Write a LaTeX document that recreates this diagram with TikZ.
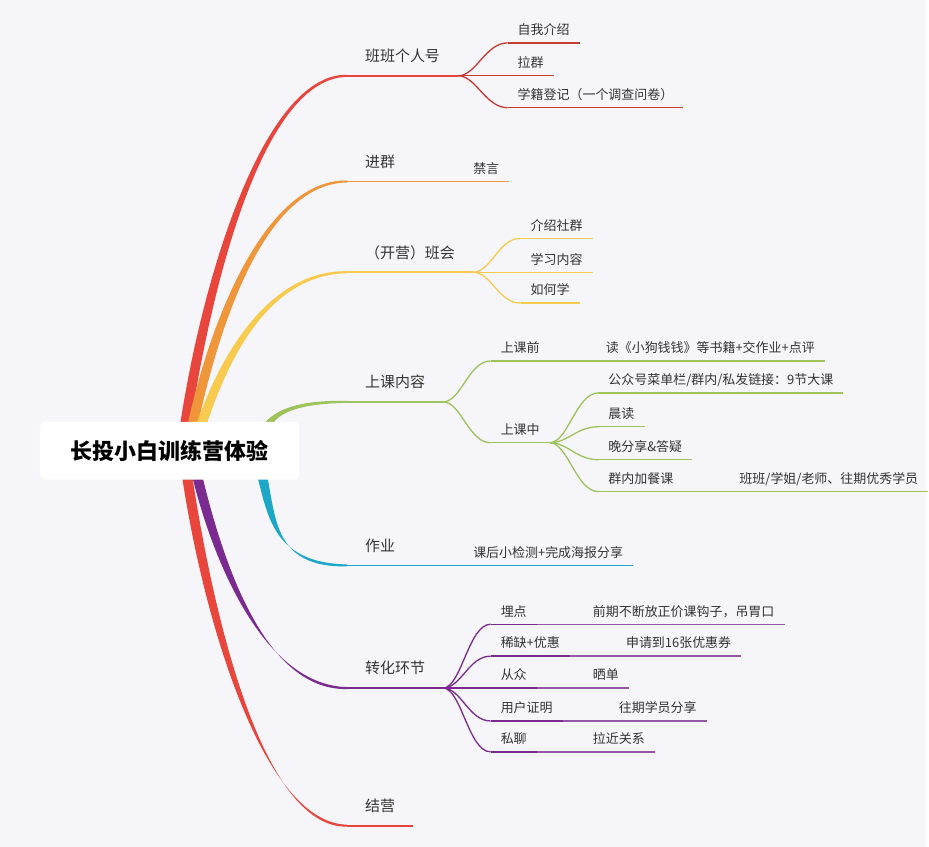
\documentclass[tikz,border=0pt]{standalone}
\usepackage{fontspec}
\setmainfont{Noto Sans CJK SC}
\usepackage{tikz}
\usetikzlibrary{calc,positioning}
\definecolor{bgpaper}{HTML}{F6F5FA}
\definecolor{inkgray}{HTML}{333333}
\definecolor{mapred}{HTML}{E8453C}
\definecolor{maporange}{HTML}{F0963A}
\definecolor{mapyellow}{HTML}{F8CB4E}
\definecolor{mapgreen}{HTML}{9EC35A}
\definecolor{mapteal}{HTML}{1BA7C5}
\definecolor{mappurple}{HTML}{7B2B90}
\tikzset{
  rootbox/.style={fill=white,rounded corners=6pt,minimum width=260pt,minimum height=58pt,font=\fontsize{22}{26}\selectfont\bfseries,text=black},
  topic/.style={anchor=south west,inner xsep=18pt,inner ysep=11pt,text height=11pt,text depth=3pt,font=\fontsize{15}{18}\selectfont,text=inkgray},
  subtopic/.style={anchor=south west,inner xsep=10pt,inner ysep=5.5pt,text height=10pt,text depth=2.5pt,font=\fontsize{13}{16}\selectfont,text=inkgray},
  uline/.style={line width=1.8pt},
  twig/.style={line width=1.3pt},
}
% tapered main branch: colour, shift from hub, target topic
\newcommand\trunk[3]{%
  \fill[#1] let \p0=([xshift=#2pt]hub), \p1=(#3.south west) in
    (\x0-5pt,\y0) .. controls (\x0+14pt,{\y0+0.4*(\y1-\y0)}) and (\x1-88pt,\y1+2.6pt) .. (\x1,\y1+1pt)
    -- (\x1,\y1-1pt) .. controls (\x1-88pt,\y1-2.6pt) and (\x0+26pt,{\y0+0.4*(\y1-\y0)}) .. (\x0+5pt,\y0) -- cycle;
}

\begin{document}
\begin{tikzpicture}[x=1pt,y=-1pt]
  \fill[bgpaper] (0,0) rectangle (929,849);
  \coordinate (hub) at (170,452);

  % first level
  \node[topic] (ban) at (348,76) {班班个人号};
  \node[topic] (jinqun) at (348,182) {进群};
  \node[topic] (banhui) at (348,273) {（开营）班会};
  \node[topic] (shangke) at (348,403) {上课内容};
  \node[topic] (zuoye) at (348,567) {作业};
  \node[topic] (zhuanhua) at (348,690) {转化环节};
  \node[topic] (jieying) at (348,828) {结营};

  % second level
  \node[subtopic] (ziwo) at (509,43) {自我介绍};
  \node[subtopic] (laqun) at (509,76) {拉群};
  \node[subtopic] (xueji) at (509,108) {学籍登记（一个调查问卷）};
  \node[subtopic] (jinyan) at ([xshift=50pt]jinqun.south east) {禁言};
  \node[subtopic] (shequn) at (522,239) {介绍社群};
  \node[subtopic] (neirong) at (522,273) {学习内容};
  \node[subtopic] (ruhe) at (522,304) {如何学};
  \node[subtopic] (keqian) at (492,362) {上课前};
  \node[subtopic] (kezhong) at (492,444) {上课中};
  \node[subtopic] (dushu) at ([xshift=46pt]keqian.south east) {读《小狗钱钱》等书籍+交作业+点评};
  \node[subtopic] (gzh) at (600,394) {公众号菜单栏/群内/私发链接：9节大课};
  \node[subtopic] (chendu) at (600,428) {晨读};
  \node[subtopic] (wanfx) at (600,461) {晚分享\&答疑};
  \node[subtopic] (jiacan) at (600,493) {群内加餐课};
  \node[subtopic] (laoshi) at ([xshift=46pt]jiacan.south east) {班班/学姐/老师、往期优秀学员};
  \node[subtopic] (jiance) at ([xshift=50pt]zuoye.south east) {课后小检测+完成海报分享};
  \node[subtopic] (maidian) at (492,626) {埋点};
  \node[subtopic] (xique) at (492,658) {稀缺+优惠};
  \node[subtopic] (congzhong) at (492,690) {从众};
  \node[subtopic] (zhengming) at (492,723) {用户证明};
  \node[subtopic] (siliao) at (492,754) {私聊};
  \node[subtopic] (gouzi) at ([xshift=46pt]maidian.south east) {前期不断放正价课钩子，吊胃口};
  \node[subtopic] (youhui) at ([xshift=46pt]xique.south east) {申请到16张优惠券};
  \node[subtopic] (shaidan) at ([xshift=46pt]congzhong.south east) {晒单};
  \node[subtopic] (fenxiang) at ([xshift=46pt]zhengming.south east) {往期学员分享};
  \node[subtopic] (guanxi) at ([xshift=46pt]siliao.south east) {拉近关系};

  % main branches
  \trunk{mapred}{12}{ban}
  \trunk{maporange}{18}{jinqun}
  \trunk{mapyellow}{24}{banhui}
  \trunk{mapgreen}{80}{shangke}
  \trunk{mapteal}{85}{zuoye}
  \trunk{mappurple}{22}{zhuanhua}
  \trunk{mapred}{14}{jieying}

  % underlines
  \foreach \t/\c in {ban/mapred,jinqun/maporange,banhui/mapyellow,shangke/mapgreen,zuoye/mapteal,zhuanhua/mappurple,jieying/mapred}
    \draw[\c,uline] (\t.south west) -- (\t.south east);
  \foreach \t/\c in {ziwo/mapred!85!black,laqun/mapred!85!black,xueji/mapred!85!black,jinyan/maporange,
      shequn/mapyellow,neirong/mapyellow,ruhe/mapyellow,keqian/mapgreen,kezhong/mapgreen,dushu/mapgreen,
      gzh/mapgreen,chendu/mapgreen,wanfx/mapgreen,jiacan/mapgreen,laoshi/mapgreen,jiance/mapteal,
      maidian/mappurple,xique/mappurple,congzhong/mappurple,zhengming/mappurple,siliao/mappurple,
      gouzi/mappurple!80,youhui/mappurple!80,shaidan/mappurple!80,fenxiang/mappurple!80,guanxi/mappurple!80}
    \draw[\c,twig] (\t.south west) -- (\t.south east);

  % forks
  \foreach \t in {ziwo,laqun,xueji}
    \draw[mapred!85!black,twig] (ban.south east) .. controls +(18,0) and +(-22,0) .. (\t.south west);
  \foreach \t in {shequn,neirong,ruhe}
    \draw[mapyellow,twig] (banhui.south east) .. controls +(18,0) and +(-22,0) .. (\t.south west);
  \foreach \t in {keqian,kezhong}
    \draw[mapgreen,twig] (shangke.south east) .. controls +(18,0) and +(-22,0) .. (\t.south west);
  \foreach \t in {gzh,chendu,wanfx,jiacan}
    \draw[mapgreen,twig] (kezhong.south east) .. controls +(18,0) and +(-22,0) .. (\t.south west);
  \foreach \t in {maidian,xique,congzhong,zhengming,siliao}
    \draw[mappurple,twig] (zhuanhua.south east) .. controls +(18,0) and +(-22,0) .. (\t.south west);

  % single leaves
  \draw[maporange,twig] (jinqun.south east) -- (jinyan.south west);
  \draw[mapgreen,twig] (keqian.south east) -- (dushu.south west);
  \draw[mapgreen,twig] (jiacan.south east) -- (laoshi.south west);
  \draw[mapteal,twig] (zuoye.south east) -- (jiance.south west);
  \foreach \a/\b in {maidian/gouzi,xique/youhui,congzhong/shaidan,zhengming/fenxiang,siliao/guanxi}
    \draw[mappurple!80,twig] (\a.south east) -- (\b.south west);

  \node[rootbox] (root) at (hub) {长投小白训练营体验};
\end{tikzpicture}
\end{document}
